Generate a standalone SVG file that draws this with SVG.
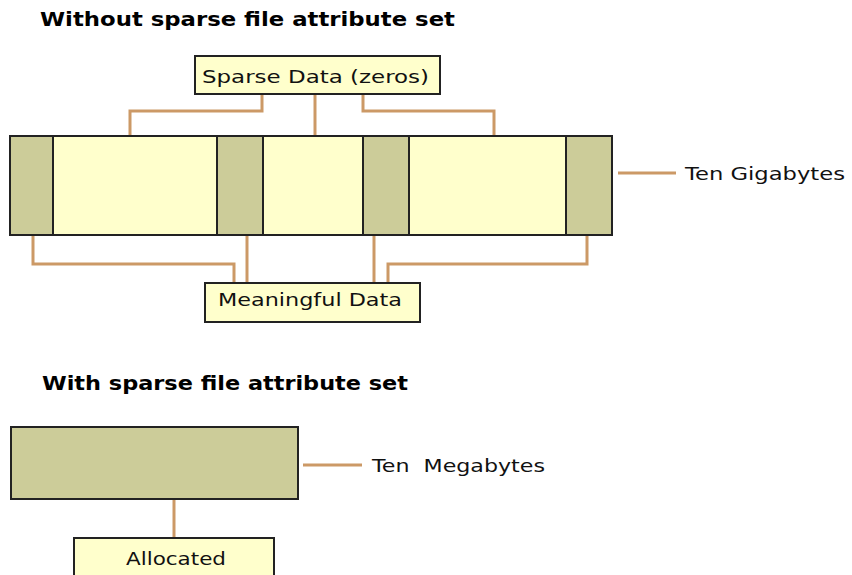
<svg xmlns="http://www.w3.org/2000/svg" width="852" height="575" viewBox="0 0 852 575">
<style>
.title{font-family:"DejaVu Sans","Liberation Sans",sans-serif;font-weight:bold;font-size:19px;fill:#000}
.lbl{font-family:"DejaVu Sans","Liberation Sans",sans-serif;font-size:18px;fill:#111}
.light{fill:#FFFFCC;stroke:#222;stroke-width:2}
.dark{fill:#CCCC99;stroke:#222;stroke-width:2}
.conn{fill:none;stroke:#CC9966;stroke-width:3}
</style>
<rect width="852" height="575" fill="#fff"/>
<text class="title" x="40" y="26" textLength="415" lengthAdjust="spacingAndGlyphs">Without sparse file attribute set</text>
<text class="title" x="42" y="390" textLength="366" lengthAdjust="spacingAndGlyphs">With sparse file attribute set</text>

<g id="connectors">
<polyline class="conn" points="262,94 262,111 130,111 130,136"/>
<polyline class="conn" points="315,94 315,136"/>
<polyline class="conn" points="363,94 363,111 494,111 494,136"/>
<polyline class="conn" points="33,235 33,264 234,264 234,283"/>
<polyline class="conn" points="247,235 247,283"/>
<polyline class="conn" points="374,235 374,283"/>
<polyline class="conn" points="587,235 587,264 388,264 388,283"/>
<line class="conn" x1="618" y1="173" x2="676" y2="173"/>
<line class="conn" x1="303" y1="465" x2="362" y2="465"/>
<line class="conn" x1="174" y1="499" x2="174" y2="538"/>
</g>

<g id="file-bar">
<rect class="dark" x="10" y="136" width="43" height="99"/>
<rect class="light" x="53" y="136" width="164" height="99"/>
<rect class="dark" x="217" y="136" width="46" height="99"/>
<rect class="light" x="263" y="136" width="100" height="99"/>
<rect class="dark" x="363" y="136" width="46" height="99"/>
<rect class="light" x="409" y="136" width="157" height="99"/>
<rect class="dark" x="566" y="136" width="46" height="99"/>
</g>

<g id="sparse-data">
<rect class="light" x="195" y="56" width="245" height="38"/>
<text class="lbl" x="202" y="83" textLength="227" lengthAdjust="spacingAndGlyphs">Sparse Data (zeros)</text>
</g>

<g id="meaningful-data">
<rect class="light" x="205" y="283" width="215" height="39"/>
<text class="lbl" x="218" y="306" textLength="184" lengthAdjust="spacingAndGlyphs">Meaningful Data</text>
</g>

<g id="ten-gigabytes">
<text class="lbl" x="685" y="180" textLength="160" lengthAdjust="spacingAndGlyphs">Ten Gigabytes</text>
</g>

<g id="sparse-file">
<rect class="dark" x="11" y="427" width="287" height="72"/>
</g>

<g id="ten-megabytes">
<text class="lbl" x="372" y="472" textLength="173" lengthAdjust="spacingAndGlyphs">Ten&#160; Megabytes</text>
</g>

<g id="allocated">
<rect class="light" x="74" y="538" width="200" height="45"/>
<text class="lbl" x="126" y="565" textLength="100" lengthAdjust="spacingAndGlyphs">Allocated</text>
</g>
</svg>
